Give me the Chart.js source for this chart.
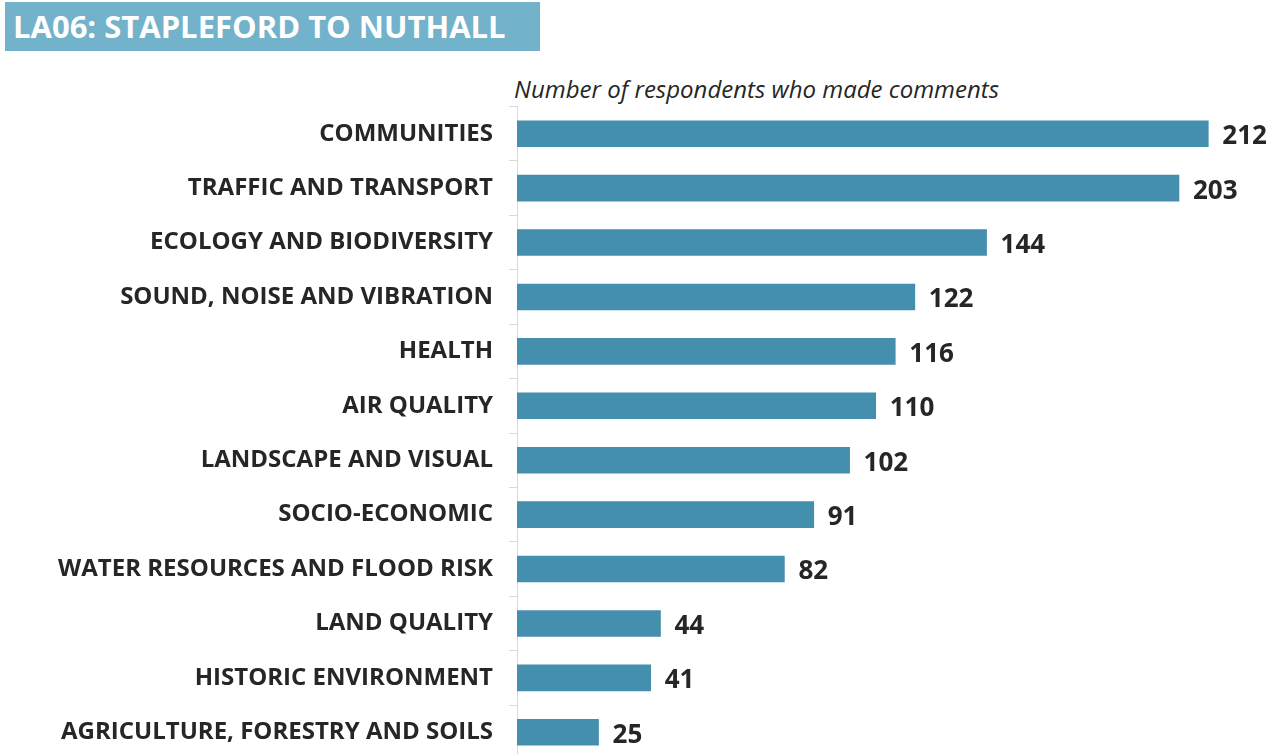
<!DOCTYPE html>
<html>
<head>
<meta charset="utf-8">
<script src="https://cdn.jsdelivr.net/npm/chart.js@4.4.1/dist/chart.umd.min.js"></script>
<style>
  html, body { margin: 0; padding: 0; background: #fff; overflow: hidden; }
  body { width: 1278px; height: 754px; position: relative; font-family: "Open Sans", sans-serif; }
  #title {
    position: absolute; left: 5px; top: 2px; width: 535px; height: 49px;
    background: #72b2ca; color: #fff; font-weight: 700; font-size: 31px;
    line-height: 49px; padding-left: 8px; box-sizing: border-box; white-space: nowrap;
  }
  #subtitle {
    position: absolute; left: 514px; top: 72px; font-style: italic; font-size: 24px;
    color: #262626; white-space: nowrap; line-height: 34px;
  }
  #chart { position: absolute; left: 0; top: 0; }
</style>
</head>
<body>
<div id="title">LA06: STAPLEFORD TO NUTHALL</div>
<div id="subtitle">Number of respondents who made comments</div>
<canvas id="chart" width="1278" height="770"></canvas>
<script>
const topics = [
  'COMMUNITIES',
  'TRAFFIC AND TRANSPORT',
  'ECOLOGY AND BIODIVERSITY',
  'SOUND, NOISE AND VIBRATION',
  'HEALTH',
  'AIR QUALITY',
  'LANDSCAPE AND VISUAL',
  'SOCIO-ECONOMIC',
  'WATER RESOURCES AND FLOOD RISK',
  'LAND QUALITY',
  'HISTORIC ENVIRONMENT',
  'AGRICULTURE, FORESTRY AND SOILS'
];
const respondents = [212, 203, 144, 122, 116, 110, 102, 91, 82, 44, 41, 25];

// value printed just past the end of each bar
const barValues = {
  id: 'barValues',
  afterDatasetsDraw(chart) {
    const ctx = chart.ctx;
    const meta = chart.getDatasetMeta(0);
    ctx.save();
    ctx.font = 'bold 26px "Open Sans"';
    ctx.fillStyle = '#262626';
    ctx.textAlign = 'left';
    ctx.textBaseline = 'middle';
    meta.data.forEach((bar, i) => {
      ctx.fillText(respondents[i], bar.x + 14, bar.y + 3);
    });
    ctx.restore();
  }
};

new Chart(document.getElementById('chart'), {
  type: 'bar',
  data: {
    labels: topics,
    datasets: [{
      data: respondents,
      backgroundColor: '#438fad',
      barThickness: 26
    }]
  },
  options: {
    indexAxis: 'y',
    responsive: false,
    animation: false,
    layout: { padding: { top: 106.5, bottom: 10.5, left: 0, right: 11 } },
    plugins: { legend: { display: false }, tooltip: { enabled: false } },
    scales: {
      x: { display: false, min: 0, max: 230 },
      y: {
        afterFit(scale) {
          scale.width = 517;
          // labels sit inside their bands, no extra room needed above/below
          scale.paddingTop = 0;
          scale.paddingBottom = 0;
        },
        border: { color: '#d9d9d9', width: 1 },
        grid: { drawOnChartArea: false, offset: true, tickLength: 8, color: '#d9d9d9' },
        ticks: {
          color: '#262626',
          padding: 16,
          font: { family: '"Open Sans"', weight: 'bold', size: 24 }
        }
      }
    }
  },
  plugins: [barValues]
});
</script>
</body>
</html>
